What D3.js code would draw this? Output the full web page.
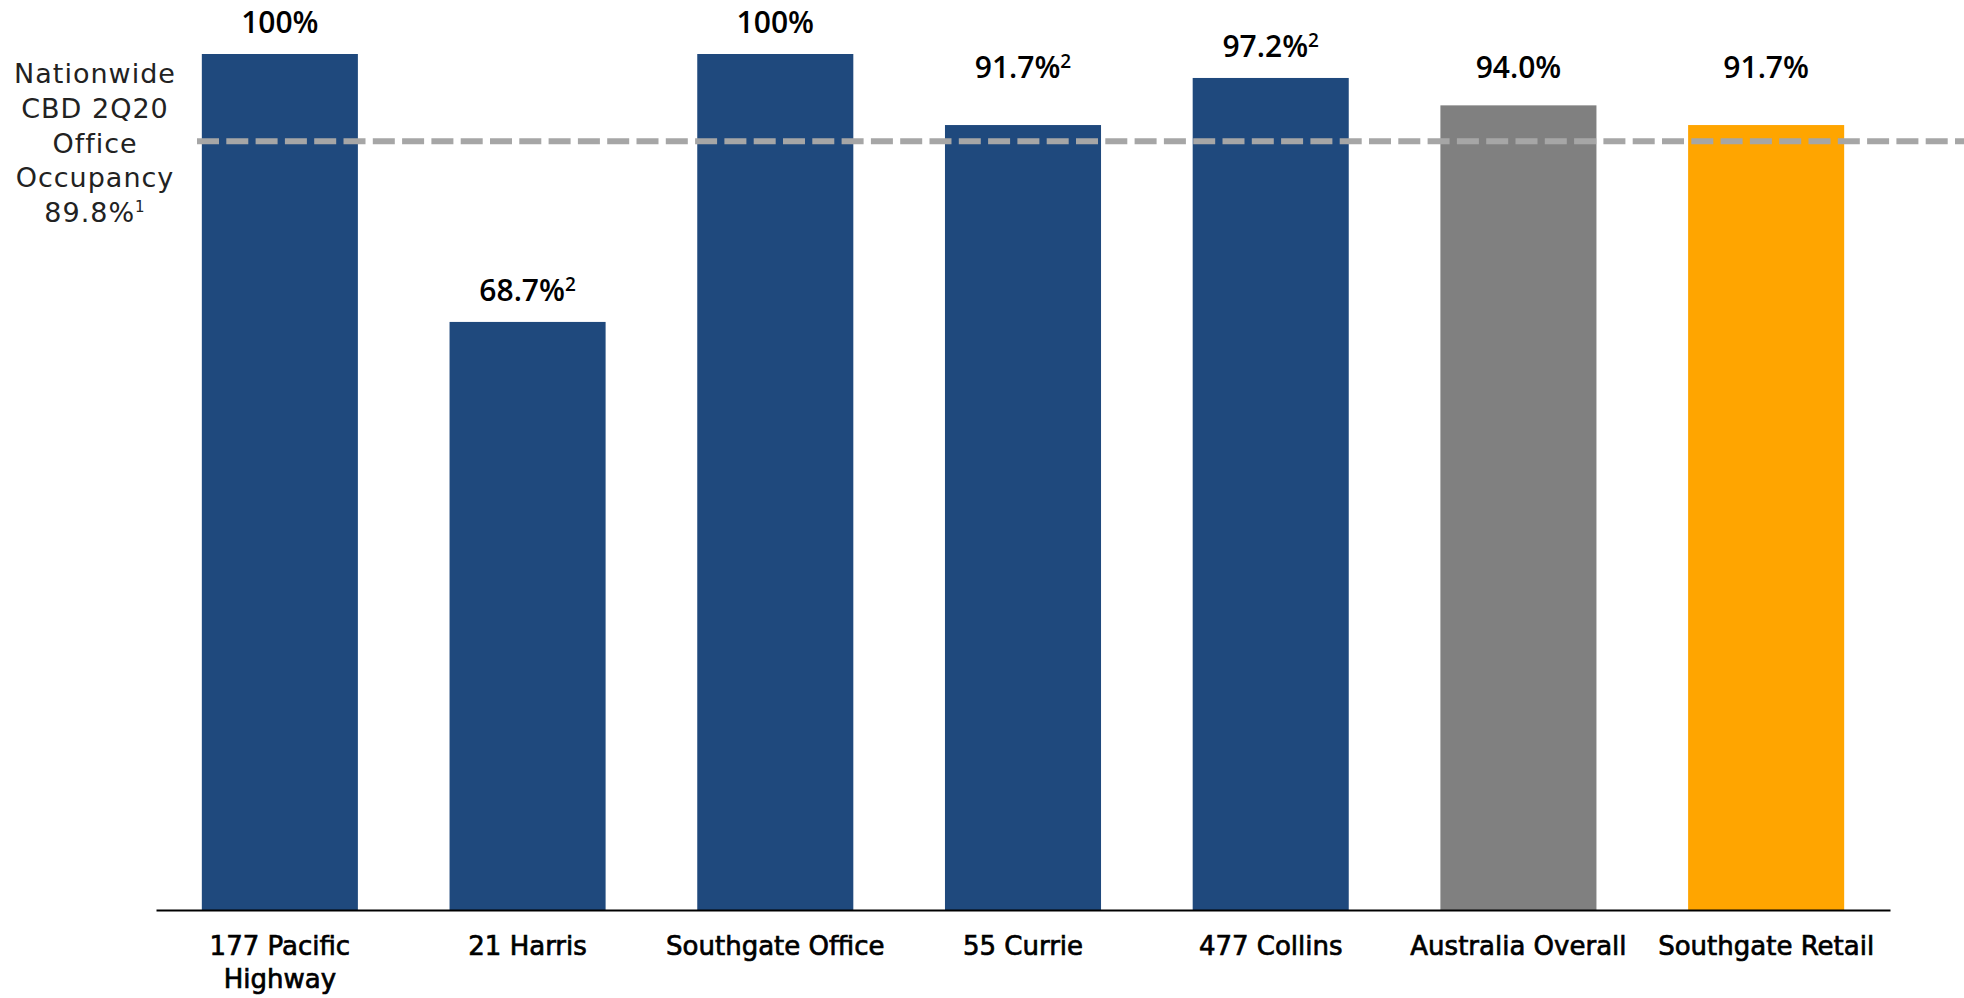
<!DOCTYPE html>
<html>
<head>
<meta charset="utf-8">
<script src="https://cdn.jsdelivr.net/npm/d3@7/dist/d3.min.js"></script>
<style>
  html, body { margin: 0; padding: 0; background: #ffffff; }
  svg { display: block; }
</style>
</head>
<body>
<svg id="chart" width="1964" height="998"></svg>
<script>
// ---- data ----
const categories = ["177 Pacific Highway", "21 Harris", "Southgate Office", "55 Currie", "477 Collins", "Australia Overall", "Southgate Retail"];
const occupancy = [100, 68.7, 100, 91.7, 97.2, 94.0, 91.7];
const valueLabels = ["100%", "68.7%", "100%", "91.7%", "97.2%", "94.0%", "91.7%"];
const footnotes = ["", "2", "", "2", "2", "", ""];
const barGroups = ["asset", "asset", "asset", "asset", "asset", "national", "retail"];
const benchmarkValue = 89.8;
const benchmarkLines = ["Nationwide", "CBD 2Q20", "Office", "Occupancy", "89.8%"];
const benchmarkNote = "1";

// ---- layout ----
const W = 1964, H = 998;
const svg = d3.select("#chart");
const colors = { asset: "#1F497D", national: "#808080", retail: "#FFA500" };

const x = d3.scaleBand()
  .domain(categories)
  .range([156, 1890])
  .paddingInner(0.37)
  .paddingOuter(0.185);

const y = d3.scaleLinear()
  .domain([0, 100])
  .range([910, 54]);

const data = categories.map((c, i) => ({
  cat: c, value: occupancy[i], label: valueLabels[i], note: footnotes[i], group: barGroups[i]
}));

// bars
svg.append("g").selectAll("rect")
  .data(data)
  .join("rect")
  .attr("x", d => x(d.cat))
  .attr("width", x.bandwidth())
  .attr("y", d => y(d.value))
  .attr("height", d => y(0) - y(d.value))
  .attr("fill", d => colors[d.group]);

// benchmark dashed line
const yRef = y(benchmarkValue);
svg.append("line")
  .attr("x1", 197).attr("x2", W)
  .attr("y1", yRef).attr("y2", yRef)
  .attr("stroke", "#A6A6A6")
  .attr("stroke-width", 6)
  .attr("stroke-dasharray", "22 7.3");

// value labels
function labelBase(v) {
  const top = y(v);
  const near = Math.abs(top - yRef) < 40;
  return (near ? Math.min(top, yRef - 42) : top) - 21;
}
const lbl = svg.append("g").selectAll("text")
  .data(data)
  .join("text")
  .attr("x", d => x(d.cat) + x.bandwidth() / 2)
  .attr("y", d => labelBase(d.value))
  .attr("text-anchor", "middle")
  .attr("font-family", "'Open Sans', sans-serif")
  .attr("font-weight", 600)
  .attr("font-size", 30)
  .attr("fill", "#000");
lbl.append("tspan").text(d => d.label);
lbl.filter(d => d.note).append("tspan")
  .attr("font-size", 19)
  .attr("dy", -10)
  .text(d => d.note);

// axis
const axis = svg.append("g")
  .attr("transform", `translate(0,${y(0)})`)
  .call(d3.axisBottom(x).tickSize(0).tickSizeOuter(0).tickPadding(0));
axis.select(".domain").attr("stroke", "#000").attr("stroke-width", 2);
axis.selectAll(".tick text")
  .attr("font-family", "'DejaVu Sans', sans-serif")
  .attr("font-size", 26)
  .attr("fill", "#000")
  .attr("stroke", "#000")
  .attr("stroke-width", 0.7)
  .attr("y", 0)
  .attr("dy", 0)
  .each(function(d) {
    const t = d3.select(this);
    const words = d.split(" ");
    t.text(null);
    const maxW = 235;
    let lines = [], cur = [];
    const probe = t.append("tspan");
    words.forEach(w => {
      const test = cur.concat([w]).join(" ");
      probe.text(test);
      if (probe.node().getComputedTextLength() > maxW && cur.length) {
        lines.push(cur.join(" "));
        cur = [w];
      } else {
        cur.push(w);
      }
    });
    lines.push(cur.join(" "));
    probe.remove();
    lines.forEach((ln, i) => {
      t.append("tspan").attr("x", 0).attr("y", 45 + i * 33).text(ln);
    });
  });

// benchmark label (left)
const bl = svg.append("text")
  .attr("text-anchor", "middle")
  .attr("font-family", "'DejaVu Sans', sans-serif")
  .attr("font-weight", 400)
  .attr("font-size", 27)
  .attr("letter-spacing", 1)
  .attr("fill", "#222");
benchmarkLines.forEach((ln, i) => {
  bl.append("tspan").attr("x", 95).attr("y", 82.7 + i * 34.9).text(ln);
  if (i === benchmarkLines.length - 1) {
    bl.append("tspan").attr("font-size", 15).attr("dy", -10).text(benchmarkNote);
  }
});
</script>
</body>
</html>
